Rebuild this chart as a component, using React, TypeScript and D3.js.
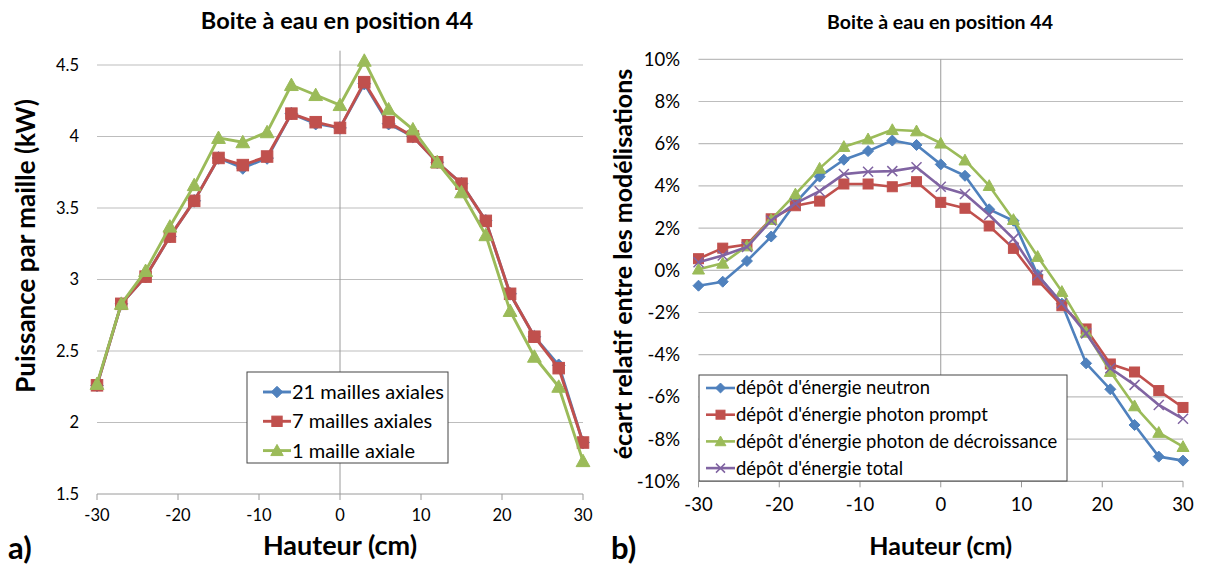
import React from 'react';
import * as d3 from 'd3';

const heights = [-30, -27, -24, -21, -18, -15, -12, -9, -6, -3, 0, 3, 6, 9, 12, 15, 18, 21, 24, 27, 30];

const puissance21 = [2.26, 2.83, 3.02, 3.30, 3.55, 3.85, 3.78, 3.85, 4.16, 4.09, 4.06, 4.37, 4.09, 4.00, 3.82, 3.67, 3.41, 2.90, 2.60, 2.40, 1.86];
const puissance7 = [2.26, 2.83, 3.02, 3.30, 3.55, 3.85, 3.80, 3.86, 4.16, 4.10, 4.06, 4.38, 4.10, 4.00, 3.82, 3.67, 3.41, 2.90, 2.60, 2.38, 1.86];
const puissance1 = [2.27, 2.83, 3.06, 3.37, 3.66, 3.99, 3.96, 4.03, 4.36, 4.29, 4.22, 4.53, 4.19, 4.05, 3.82, 3.61, 3.31, 2.78, 2.46, 2.25, 1.73];

const ecartNeutron = [-0.73, -0.54, 0.44, 1.60, 3.19, 4.44, 5.24, 5.65, 6.15, 5.94, 5.02, 4.48, 2.89, 2.35, -0.22, -1.58, -4.41, -5.64, -7.33, -8.83, -9.02];
const ecartPrompt = [0.55, 1.05, 1.22, 2.44, 3.06, 3.28, 4.09, 4.09, 3.96, 4.20, 3.22, 2.94, 2.10, 1.04, -0.46, -1.68, -2.78, -4.44, -4.82, -5.70, -6.50];
const ecartDecroissance = [0.05, 0.33, 1.15, 2.40, 3.61, 4.83, 5.86, 6.22, 6.66, 6.60, 6.02, 5.22, 4.01, 2.40, 0.65, -1.01, -2.94, -4.80, -6.43, -7.69, -8.36];
const ecartTotal = [0.38, 0.70, 1.10, 2.36, 3.17, 3.75, 4.56, 4.67, 4.70, 4.88, 3.96, 3.62, 2.62, 1.50, -0.24, -1.56, -2.99, -4.64, -5.43, -6.38, -7.04];

const namesA = ['21 mailles axiales', '7 mailles axiales', '1 maille axiale'];
const namesB = ["dépôt d'énergie neutron", "dépôt d'énergie photon prompt", "dépôt d'énergie photon de décroissance", "dépôt d'énergie total"];

const xTicks = [-30, -20, -10, 0, 10, 20, 30];
const yTicksA = [1.5, 2, 2.5, 3, 3.5, 4, 4.5];
const yTicksB = [-10, -8, -6, -4, -2, 0, 2, 4, 6, 8, 10];

const title = 'Boite à eau en position 44';
const xTitle = 'Hauteur (cm)';
const yTitleA = 'Puissance par maille (kW)';
const yTitleB = 'écart relatif entre les modélisations';

const COLORS = ['#4F81BD', '#C0504D', '#9BBB59', '#8064A2'];
const MARKERS = ['diamond', 'square', 'triangle', 'x'];
const FONT = 'Lato, "Open Sans", sans-serif';
const GRID = '#BDBDBD';
const AXIS = '#9A9A9A';

function Marker({ type, x, y, color, k }: { type: string; x: number; y: number; color: string; k: number }) {
  if (type === 'diamond') {
    const s = 5.5 * k;
    return <path d={`M${x},${y - s}L${x + s},${y}L${x},${y + s}L${x - s},${y}Z`} fill={color} stroke={color} strokeWidth={1} />;
  }
  if (type === 'square') {
    const s = 5 * k;
    return <rect x={x - s} y={y - s} width={2 * s} height={2 * s} fill={color} stroke={color} strokeWidth={1} />;
  }
  if (type === 'triangle') {
    const s = 6 * k;
    return <path d={`M${x},${y - s}L${x + s},${y + s * 0.8}L${x - s},${y + s * 0.8}Z`} fill={color} stroke={color} strokeWidth={1} />;
  }
  const s = 5 * k;
  return <path d={`M${x - s},${y - s}L${x + s},${y + s}M${x - s},${y + s}L${x + s},${y - s}`} stroke={color} strokeWidth={1.5} fill="none" />;
}

type Series = { name: string; values: number[]; color: string; marker: string };
type Sizes = { title: number; tick: number; yTitle: number; xTitle: number; legend: number; letter: number; mk: number; lw: number };

function Panel(props: {
  x0: number; x1: number; yTop: number; yBot: number; yMin: number; yMax: number;
  yTicks: number[]; fmt: (v: number) => string; series: Series[];
  yLabelX: number; yTitle: string; yTitleX: number; yTitleY: number;
  titleX: number; legend: { x: number; y: number; w: number; h: number; rowH: number; firstY: number; l0: number; l1: number; tx: number };
  letter: string; letterX: number; gridTicks: number[]; sz: Sizes; xLabelY: number;
}) {
  const { x0, x1, yTop, yBot, yMin, yMax, yTicks, fmt, series, sz } = props;
  const xs = d3.scaleLinear().domain([-30, 30]).range([x0, x1]);
  const ys = d3.scaleLinear().domain([yMin, yMax]).range([yBot, yTop]);
  const line = d3.line<number>().x((_, i) => xs(heights[i])).y((d) => ys(d));
  const lg = props.legend;
  return (
    <g>
      <text x={props.titleX} y={29} textAnchor="middle" fontFamily={FONT} fontWeight="bold" fontSize={sz.title} fill="#000">{title}</text>
      {props.gridTicks.map((t) => (
        <line key={'g' + t} x1={x0} x2={x1} y1={ys(t)} y2={ys(t)} stroke={GRID} strokeWidth={1.2} />
      ))}
      <line x1={xs(0)} x2={xs(0)} y1={ys(yMax)} y2={ys(yMin)} stroke={AXIS} strokeWidth={1} />
      <line x1={x0} x2={x1} y1={yBot} y2={yBot} stroke={AXIS} strokeWidth={1} />
      {xTicks.map((t) => (
        <g key={'x' + t}>
          <line x1={xs(t)} x2={xs(t)} y1={yBot} y2={yBot + 6} stroke={AXIS} strokeWidth={1} />
          <text x={xs(t)} y={props.xLabelY} textAnchor="middle" fontFamily={FONT} fontSize={sz.tick} fill="#000">{t}</text>
        </g>
      ))}
      {yTicks.map((t) => (
        <text key={'y' + t} x={props.yLabelX} y={ys(t) + sz.tick * 0.35} textAnchor="end" fontFamily={FONT} fontSize={sz.tick} fill="#000">{fmt(t)}</text>
      ))}
      <text transform={`translate(${props.yTitleX},${props.yTitleY}) rotate(-90)`} textAnchor="middle" fontFamily={FONT} fontWeight="bold" fontSize={sz.yTitle} fill="#000">{props.yTitle}</text>
      <text x={(x0 + x1) / 2} y={555} textAnchor="middle" fontFamily={FONT} fontWeight="bold" fontSize={sz.xTitle} fill="#000">{xTitle}</text>
      <text x={props.letterX} y={559} fontFamily={FONT} fontWeight="bold" fontSize={sz.letter} fill="#000">{props.letter}</text>
      {series.map((s) => (
        <g key={s.name}>
          <path d={line(s.values) || ''} fill="none" stroke={s.color} strokeWidth={sz.lw} strokeLinejoin="round" />
          {s.values.map((v, i) => (
            <Marker key={i} type={s.marker} x={xs(heights[i])} y={ys(v)} color={s.color} k={sz.mk} />
          ))}
        </g>
      ))}
      <rect x={lg.x} y={lg.y} width={lg.w} height={lg.h} fill="#fff" stroke="#444" strokeWidth={1} />
      {series.map((s, i) => {
        const cy = lg.firstY + i * lg.rowH;
        return (
          <g key={'l' + i}>
            <line x1={lg.x + lg.l0} x2={lg.x + lg.l1} y1={cy} y2={cy} stroke={s.color} strokeWidth={sz.lw} />
            <Marker type={s.marker} x={lg.x + (lg.l0 + lg.l1) / 2} y={cy} color={s.color} k={sz.mk * 0.9} />
            <text x={lg.x + lg.tx} y={cy + sz.legend * 0.35} fontFamily={FONT} fontSize={sz.legend} fill="#000">{s.name}</text>
          </g>
        );
      })}
    </g>
  );
}

export default function App() {
  const seriesA: Series[] = [puissance21, puissance7, puissance1].map((v, i) => ({ name: namesA[i], values: v, color: COLORS[i], marker: MARKERS[i] }));
  const seriesB: Series[] = [ecartNeutron, ecartPrompt, ecartDecroissance, ecartTotal].map((v, i) => ({ name: namesB[i], values: v, color: COLORS[i], marker: MARKERS[i] }));
  return (
    <svg width={1205} height={566} style={{ position: 'absolute', left: 0, top: 0, background: '#fff' }}>
      <rect x={0} y={0} width={1205} height={566} fill="#fff" />
      <Panel
        x0={97} x1={583} yTop={50.7} yBot={494} yMin={1.5} yMax={4.6}
        yTicks={yTicksA} fmt={(v) => String(v)} series={seriesA}
        yLabelX={79} yTitle={yTitleA} yTitleX={35} yTitleY={246}
        titleX={337} legend={{ x: 247, y: 372, w: 201, h: 91, rowH: 29.3, firstY: 392, l0: 16, l1: 44, tx: 45 }}
        letter="a)" letterX={8} gridTicks={[2, 2.5, 3, 3.5, 4, 4.5]} xLabelY={521}
        sz={{ title: 23.5, tick: 16.5, yTitle: 26, xTitle: 27, legend: 20, letter: 31, mk: 1.15, lw: 2.9 }}
      />
      <Panel
        x0={698.5} x1={1183} yTop={59.3} yBot={481.3} yMin={-10} yMax={10}
        yTicks={yTicksB} fmt={(v) => v + '%'} series={seriesB}
        yLabelX={680} yTitle={yTitleB} yTitleX={632} yTitleY={264}
        titleX={940} legend={{ x: 699, y: 375, w: 368, h: 106, rowH: 26.7, firstY: 388, l0: 7, l1: 36, tx: 37 }}
        letter="b)" letterX={611} gridTicks={[-8, -6, -4, -2, 0, 2, 4, 6, 8, 10]} xLabelY={511}
        sz={{ title: 19.5, tick: 18.5, yTitle: 25, xTitle: 25, legend: 18.4, letter: 31, mk: 1, lw: 2.6 }}
      />
    </svg>
  );
}
